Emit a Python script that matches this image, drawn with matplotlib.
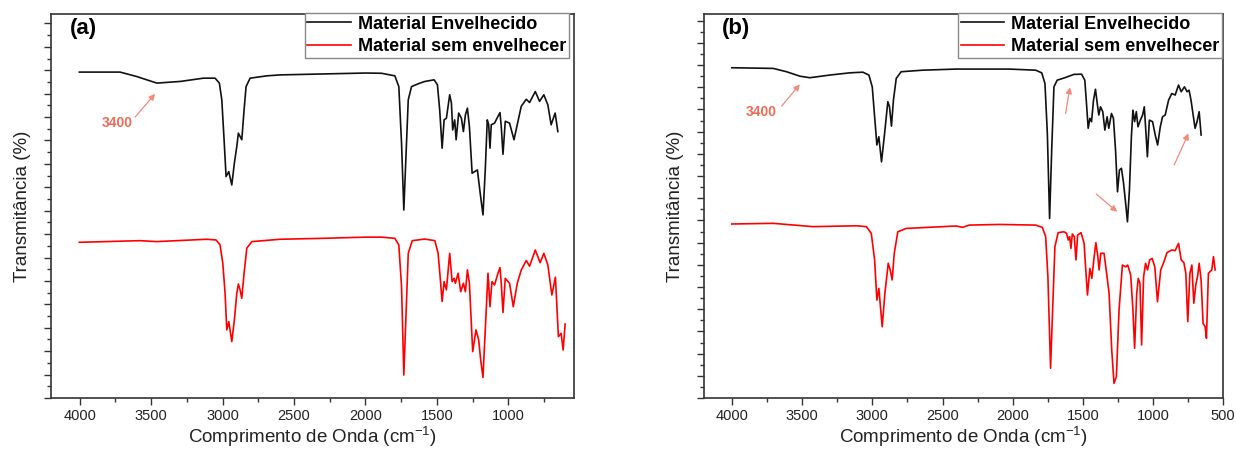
import numpy as np
import matplotlib
matplotlib.use("Agg")
import matplotlib.pyplot as plt
from matplotlib.ticker import MultipleLocator

plt.rcParams['font.family'] = ['Liberation Sans', 'DejaVu Sans']
plt.rcParams['mathtext.default'] = 'regular'

#### panel (a) spectra ####
a_black_wn = [4002, 3717, 3600, 3460, 3297, 3134, 3052, 3022, 3005, 2989, 2975, 2956, 2935, 2917,
              2900, 2889, 2877, 2865, 2849, 2835, 2807, 2690, 2597, 2300, 2000, 1887, 1794, 1766,
              1747, 1731, 1717, 1700, 1677, 1631, 1584, 1519, 1496, 1480, 1463, 1449, 1433, 1410,
              1398, 1389, 1375, 1365, 1347, 1328, 1314, 1300, 1286, 1272, 1253, 1235, 1216, 1198,
              1177, 1161, 1147, 1137, 1128, 1119, 1096, 1072, 1058, 1049, 1037, 1021, 991, 960,
              932, 909, 874, 851, 811, 781, 751, 723, 700, 672, 653]
a_black_t = [13.92, 13.92, 13.73, 13.45, 13.52, 13.66, 13.66, 13.45, 12.74, 11.03, 9.46, 9.67, 9.10,
             10.03, 10.74, 11.31, 11.17, 11.03, 12.31, 13.30, 13.66, 13.76, 13.80, 13.84, 13.88,
             13.87, 13.76, 13.30, 10.88, 8.03, 10.17, 12.74, 13.30, 13.42, 13.52, 13.59, 13.38,
             12.31, 10.67, 11.88, 11.95, 12.95, 12.60, 11.45, 11.88, 11.03, 12.17, 11.95, 11.38,
             12.09, 12.38, 11.59, 9.60, 9.67, 9.74, 8.82, 7.82, 9.74, 11.88, 11.67, 10.67, 11.67,
             11.74, 12.03, 12.19, 11.59, 10.41, 11.82, 11.74, 11.03, 11.82, 12.46, 12.76, 12.62,
             13.09, 12.67, 12.95, 12.52, 11.67, 12.17, 11.38]

a_red_wn = [4002, 3577, 3460, 3110, 3045, 3017, 2998, 2982, 2970, 2956, 2935, 2917, 2900, 2889,
            2877, 2865, 2849, 2830, 2795, 2597, 2300, 2000, 1887, 1794, 1766, 1747, 1731, 1717,
            1700, 1672, 1584, 1514, 1491, 1477, 1463, 1449, 1433, 1410, 1393, 1379, 1370, 1351,
            1333, 1314, 1300, 1286, 1272, 1249, 1226, 1207, 1193, 1177, 1161, 1142, 1128, 1114,
            1096, 1072, 1058, 1049, 1037, 1021, 991, 965, 937, 909, 874, 851, 811, 777, 751, 723,
            695, 670, 649, 630, 616, 602]
a_red_t = [6.65, 6.72, 6.68, 6.78, 6.75, 6.54, 5.76, 4.47, 2.91, 3.26, 2.41, 3.33, 4.47, 4.87,
           4.62, 4.26, 5.33, 6.40, 6.68, 6.78, 6.82, 6.87, 6.87, 6.82, 6.54, 4.76, 0.98, 3.33,
           6.18, 6.72, 6.79, 6.72, 6.18, 5.18, 4.12, 4.97, 4.62, 6.18, 4.97, 5.11, 4.90, 5.33,
           4.54, 4.90, 4.54, 5.47, 4.90, 1.98, 2.91, 2.48, 1.62, 0.88, 2.91, 5.33, 3.90, 4.97,
           4.83, 5.33, 5.57, 4.90, 3.65, 5.11, 4.90, 3.90, 4.90, 5.47, 5.87, 5.63, 6.32, 5.78,
           6.18, 5.68, 4.40, 5.16, 2.62, 2.76, 2.05, 3.16]

#### panel (b) spectra ####
b_black_wn = [4002, 3707, 3612, 3517, 3446, 3304, 3162, 3068, 3025, 3001, 2984, 2968, 2954, 2935,
              2913, 2890, 2878, 2864, 2850, 2830, 2795, 2641, 2404, 2168, 2026, 1836, 1793, 1770,
              1753, 1737, 1722, 1706, 1683, 1623, 1564, 1509, 1486, 1474, 1462, 1450, 1438, 1424,
              1410, 1396, 1386, 1374, 1358, 1343, 1327, 1315, 1296, 1282, 1267, 1253, 1239, 1225,
              1211, 1196, 1182, 1168, 1154, 1143, 1131, 1119, 1107, 1090, 1074, 1062, 1050, 1040,
              1026, 1003, 984, 967, 948, 932, 913, 889, 866, 842, 818, 799, 776, 757, 743, 729,
              712, 700, 686, 671, 657]
b_black_t = [14.88, 14.85, 14.70, 14.50, 14.43, 14.55, 14.65, 14.68, 14.55, 14.02, 12.67, 11.40,
             11.77, 10.64, 11.92, 13.35, 13.12, 12.25, 13.42, 14.40, 14.70, 14.77, 14.82, 14.82,
             14.82, 14.77, 14.65, 14.17, 11.92, 8.09, 11.17, 14.02, 14.32, 14.44, 14.58, 14.59,
             14.32, 13.27, 12.15, 12.60, 12.45, 13.42, 13.91, 13.20, 12.75, 13.12, 12.90, 12.07,
             12.67, 12.15, 12.82, 12.60, 11.17, 9.29, 10.27, 10.35, 9.74, 8.84, 7.94, 9.37, 11.77,
             12.97, 12.45, 12.90, 12.22, 12.52, 12.75, 13.12, 11.92, 10.87, 12.52, 12.45, 11.85,
             11.40, 12.22, 12.67, 12.75, 13.42, 13.72, 13.65, 14.10, 13.80, 14.02, 13.80, 13.87,
             13.42, 12.67, 12.15, 12.45, 12.90, 11.85]

b_red_wn = [4002, 3707, 3423, 3114, 3043, 3008, 2984, 2968, 2954, 2930, 2911, 2887, 2873, 2859,
            2844, 2819, 2759, 2404, 2357, 2310, 2097, 1836, 1789, 1765, 1749, 1730, 1718, 1699,
            1676, 1635, 1616, 1604, 1594, 1585, 1575, 1561, 1549, 1537, 1513, 1491, 1479, 1467,
            1450, 1436, 1422, 1407, 1393, 1384, 1372, 1349, 1332, 1313, 1294, 1278, 1261, 1242,
            1218, 1194, 1180, 1159, 1143, 1131, 1116, 1105, 1093, 1081, 1067, 1053, 1039, 1024,
            1006, 987, 968, 945, 922, 900, 866, 842, 818, 799, 780, 766, 752, 737, 723, 709, 695,
            681, 671, 657, 643, 628, 619, 605, 581, 569, 557]
b_red_t = [7.84, 7.87, 7.72, 7.76, 7.72, 7.42, 6.22, 4.41, 4.94, 3.21, 4.71, 6.07, 5.77, 5.32,
           6.52, 7.49, 7.64, 7.75, 7.69, 7.79, 7.82, 7.79, 7.69, 7.27, 5.46, 1.34, 3.51, 6.82,
           7.45, 7.49, 7.42, 7.12, 7.27, 6.74, 7.39, 7.27, 6.22, 7.34, 7.45, 6.97, 5.77, 4.64,
           5.84, 5.39, 6.22, 7.00, 6.37, 5.77, 6.52, 6.52, 5.69, 4.72, 2.16, 0.66, 0.96, 3.96,
           5.99, 5.91, 5.99, 5.54, 3.96, 2.24, 4.72, 5.39, 5.17, 2.39, 5.46, 6.07, 5.77, 6.22,
           6.29, 5.91, 4.34, 5.77, 6.14, 6.55, 6.67, 6.64, 6.97, 6.22, 6.10, 5.62, 3.44, 5.62,
           5.99, 4.27, 5.09, 5.54, 6.07, 5.32, 3.36, 3.21, 2.69, 5.62, 5.77, 6.37, 5.77]

labels = ["Material Envelhecido", "Material sem envelhecer"]
annot_color = '#ef6a55'
arrow_color = '#f3897b'


def setup_axes(ax, xmax, xmin, ytop, tag):
    ax.set_xlim(xmax, xmin)
    ax.set_ylim(0, ytop)
    ax.xaxis.set_major_locator(MultipleLocator(500))
    ax.xaxis.set_minor_locator(MultipleLocator(250))
    ax.yaxis.set_major_locator(MultipleLocator(1))
    ax.yaxis.set_minor_locator(MultipleLocator(0.5))
    ax.tick_params(which='both', direction='out', top=False, right=False, width=1.0,
                   color='#333333')
    ax.tick_params(which='major', length=5)
    ax.tick_params(which='minor', length=3)
    ax.tick_params(axis='x', labelsize=10.5, pad=3, labelcolor='#222222')
    ax.set_yticklabels([])
    for s in ax.spines.values():
        s.set_linewidth(1.2)
        s.set_color('#333333')
    ax.set_xlabel(r"Comprimento de Onda (cm$^{-1}$)", fontsize=13.5, labelpad=1, color='#222222')
    ax.set_ylabel("Transmitância (%)", fontsize=13.5, labelpad=6, color='#222222')
    ax.text(0.062, 0.962, tag, transform=ax.transAxes, fontsize=16, fontweight='bold',
            ha='center', va='center')


def arrow(ax, start, end):
    ax.annotate("", xy=end, xytext=start,
                arrowprops=dict(arrowstyle='-|>', color=arrow_color, lw=0.9,
                                mutation_scale=9, shrinkA=0, shrinkB=0))


fig = plt.figure(figsize=(12.36, 4.51), dpi=100)
ax1 = fig.add_axes([0.0413, 0.1175, 0.4231, 0.8514])
ax2 = fig.add_axes([0.5696, 0.1175, 0.4200, 0.8514])

# (a)
ax1.plot(a_black_wn, a_black_t, color='#111111', lw=1.2, label=labels[0])
ax1.plot(a_red_wn, a_red_t, color='red', lw=1.2, label=labels[1])
setup_axes(ax1, 4200, 540, 16.4, "(a)")
ax1.text(3738, 11.75, "3400", color=annot_color, fontsize=10, fontweight='bold',
         ha='center', va='center')
arrow(ax1, (3612, 12.0), (3472, 12.99))
leg1 = ax1.legend(loc='upper right', bbox_to_anchor=(0.99, 1.003), borderaxespad=0,
                  fancybox=False, edgecolor='#888888', framealpha=1,
                  prop={'weight': 'bold', 'size': 13}, handlelength=2.4,
                  handletextpad=0.4, labelspacing=0.3, borderpad=0.15)
leg1.get_frame().set_linewidth(1.0)

# (b)
ax2.plot(b_black_wn, b_black_t, color='#111111', lw=1.2, label=labels[0])
ax2.plot(b_red_wn, b_red_t, color='red', lw=1.2, label=labels[1])
setup_axes(ax2, 4200, 500, 17.3, "(b)")
ax2.text(3794, 12.88, "3400", color=annot_color, fontsize=10, fontweight='bold',
         ha='center', va='center')
arrow(ax2, (3647, 13.15), (3517, 14.13))
arrow(ax2, (1623, 12.82), (1592, 14.0))
arrow(ax2, (1404, 9.19), (1255, 8.39))
arrow(ax2, (849, 10.50), (747, 11.92))
leg2 = ax2.legend(loc='upper right', bbox_to_anchor=(0.998, 1.003), borderaxespad=0,
                  fancybox=False, edgecolor='#888888', framealpha=1,
                  prop={'weight': 'bold', 'size': 13}, handlelength=2.4,
                  handletextpad=0.4, labelspacing=0.3, borderpad=0.15)
leg2.get_frame().set_linewidth(1.0)

fig.savefig("out.png", dpi=100)
